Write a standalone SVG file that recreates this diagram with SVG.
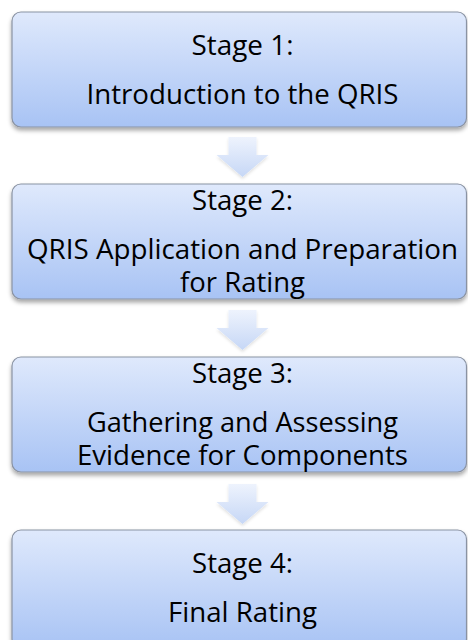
<svg xmlns="http://www.w3.org/2000/svg" width="468" height="640" viewBox="0 0 468 640">
<defs>
<linearGradient id="boxGrad" x1="0" y1="0" x2="0" y2="1">
<stop offset="0" stop-color="#dfe9fc"/>
<stop offset="1" stop-color="#a8c3f4"/>
</linearGradient>
<linearGradient id="arrGrad" x1="0" y1="0" x2="0" y2="1">
<stop offset="0" stop-color="#eef3fd"/>
<stop offset="1" stop-color="#c6d7f6"/>
</linearGradient>
<filter id="shadow" x="-5%" y="-10%" width="110%" height="130%">
<feDropShadow dx="0" dy="3" stdDeviation="2" flood-color="#000" flood-opacity="0.35"/>
</filter>
<filter id="ashadow" x="-20%" y="-20%" width="140%" height="140%">
<feDropShadow dx="0" dy="2" stdDeviation="1.5" flood-color="#000" flood-opacity="0.12"/>
</filter>
</defs>
<style>
.box{fill:url(#boxGrad);stroke:#8a93a3;stroke-width:1.2;filter:url(#shadow)}
.arrow{fill:url(#arrGrad);filter:url(#ashadow)}
text{font-family:"Open Sans","Liberation Sans",sans-serif;font-size:27px;fill:#000;text-anchor:middle}
</style>
<rect width="468" height="640" fill="#fff"/>
<g id="connectors">
<path class="arrow" d="M228.5,137 H256.5 V155 H268.5 L242.5,177 L216.5,155 H228.5 Z"/>
<path class="arrow" d="M228.5,310 H256.5 V328 H268.5 L242.5,350 L216.5,328 H228.5 Z"/>
<path class="arrow" d="M228.5,484 H256.5 V502 H268.5 L242.5,524 L216.5,502 H228.5 Z"/>
</g>
<g id="stage1">
<rect class="box" x="12" y="12" width="454.5" height="115" rx="9"/>
<text x="242.5" y="55" textLength="102" lengthAdjust="spacingAndGlyphs">Stage 1:</text>
<text x="242.5" y="104" textLength="312" lengthAdjust="spacingAndGlyphs">Introduction to the QRIS</text>
</g>
<g id="stage2">
<rect class="box" x="12" y="184" width="454.5" height="115" rx="9"/>
<text x="242.5" y="210" textLength="101" lengthAdjust="spacingAndGlyphs">Stage 2:</text>
<text x="242.5" y="259" textLength="431" lengthAdjust="spacingAndGlyphs">QRIS Application and Preparation</text>
<text x="242.5" y="292" textLength="125" lengthAdjust="spacingAndGlyphs">for Rating</text>
</g>
<g id="stage3">
<rect class="box" x="12" y="357" width="454.5" height="115" rx="9"/>
<text x="242.5" y="383" textLength="101" lengthAdjust="spacingAndGlyphs">Stage 3:</text>
<text x="242.5" y="432" textLength="311" lengthAdjust="spacingAndGlyphs">Gathering and Assessing</text>
<text x="242.5" y="465" textLength="331" lengthAdjust="spacingAndGlyphs">Evidence for Components</text>
</g>
<g id="stage4">
<rect class="box" x="12" y="530" width="454.5" height="118" rx="9"/>
<text x="242.5" y="573" textLength="101" lengthAdjust="spacingAndGlyphs">Stage 4:</text>
<text x="242.5" y="622" textLength="149" lengthAdjust="spacingAndGlyphs">Final Rating</text>
</g>
</svg>
